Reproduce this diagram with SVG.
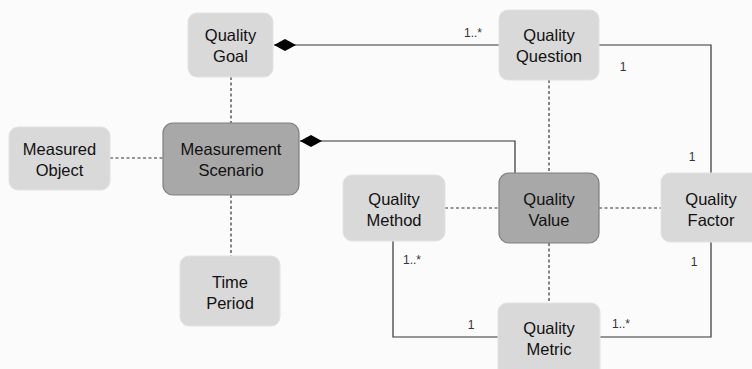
<svg xmlns="http://www.w3.org/2000/svg" width="752" height="369" viewBox="0 0 752 369">
<style>
.n{fill:#d9d9d9;stroke:#e2e2e2;stroke-width:1}
.d{fill:#a8a8a8;stroke:#7f7f7f;stroke-width:1.2}
.t{font-family:"Liberation Sans",Arial,sans-serif;font-size:16.5px;fill:#111;text-anchor:middle}
.l{font-family:"Liberation Sans",Arial,sans-serif;font-size:12px;fill:#333;text-anchor:middle}
.s{fill:none;stroke:#333;stroke-width:1.2}
.ds{fill:none;stroke:#333;stroke-width:1.2;stroke-dasharray:3,2.5}
</style>
<defs>
<marker id="dia" viewBox="0 0 22 12" refX="0" refY="6" markerWidth="22" markerHeight="12" markerUnits="userSpaceOnUse" orient="0">
<path d="M0,6 L11,0 L22,6 L11,12 Z" fill="#000"/>
</marker>
</defs>
<rect width="752" height="369" fill="#fbfbfb"/>
<g id="connectors">
<path class="s" d="M274,45 H499" marker-start="url(#dia)"/>
<path class="s" d="M300,141 H515 V173" marker-start="url(#dia)"/>
<path class="s" d="M599,45 H711 V173"/>
<path class="s" d="M393,241 V337 H499"/>
<path class="s" d="M599,337 H711 V242"/>
<path class="ds" d="M231,77 V123"/>
<path class="ds" d="M110,158 H163"/>
<path class="ds" d="M231,195 V256"/>
<path class="ds" d="M549,80 V173"/>
<path class="ds" d="M445,208 H499"/>
<path class="ds" d="M599,208 H661"/>
<path class="ds" d="M549,243 V303"/>
<text class="l" x="473" y="37">1..*</text>
<text class="l" x="623" y="71">1</text>
<text class="l" x="692" y="161">1</text>
<text class="l" x="412" y="264">1..*</text>
<text class="l" x="694" y="266">1</text>
<text class="l" x="471" y="329">1</text>
<text class="l" x="621" y="328">1..*</text>
</g>
<g id="quality-goal"><rect class="n" x="188" y="13" width="85" height="64" rx="9"/><text class="t" x="230.5" y="41">Quality</text><text class="t" x="230.5" y="62">Goal</text></g>
<g id="measured-object"><rect class="n" x="9" y="127" width="101" height="63" rx="9"/><text class="t" x="59.5" y="155">Measured</text><text class="t" x="59.5" y="176">Object</text></g>
<g id="measurement-scenario"><rect class="d" x="163" y="123" width="136" height="72" rx="10"/><text class="t" x="231" y="155">Measurement</text><text class="t" x="231" y="176">Scenario</text></g>
<g id="time-period"><rect class="n" x="180" y="256" width="100" height="70" rx="9"/><text class="t" x="230" y="288">Time</text><text class="t" x="230" y="309">Period</text></g>
<g id="quality-question"><rect class="n" x="499" y="10" width="100" height="70" rx="9"/><text class="t" x="549" y="41">Quality</text><text class="t" x="549" y="62">Question</text></g>
<g id="quality-value"><rect class="d" x="499" y="173" width="100" height="70" rx="10"/><text class="t" x="549" y="205">Quality</text><text class="t" x="549" y="226">Value</text></g>
<g id="quality-method"><rect class="n" x="343" y="175" width="102" height="66" rx="9"/><text class="t" x="394" y="205">Quality</text><text class="t" x="394" y="226">Method</text></g>
<g id="quality-factor"><rect class="n" x="661" y="173" width="100" height="69" rx="9"/><text class="t" x="711" y="205">Quality</text><text class="t" x="711" y="226">Factor</text></g>
<g id="quality-metric"><rect class="n" x="498" y="303" width="102" height="75" rx="9"/><text class="t" x="549" y="334">Quality</text><text class="t" x="549" y="355">Metric</text></g>
</svg>
